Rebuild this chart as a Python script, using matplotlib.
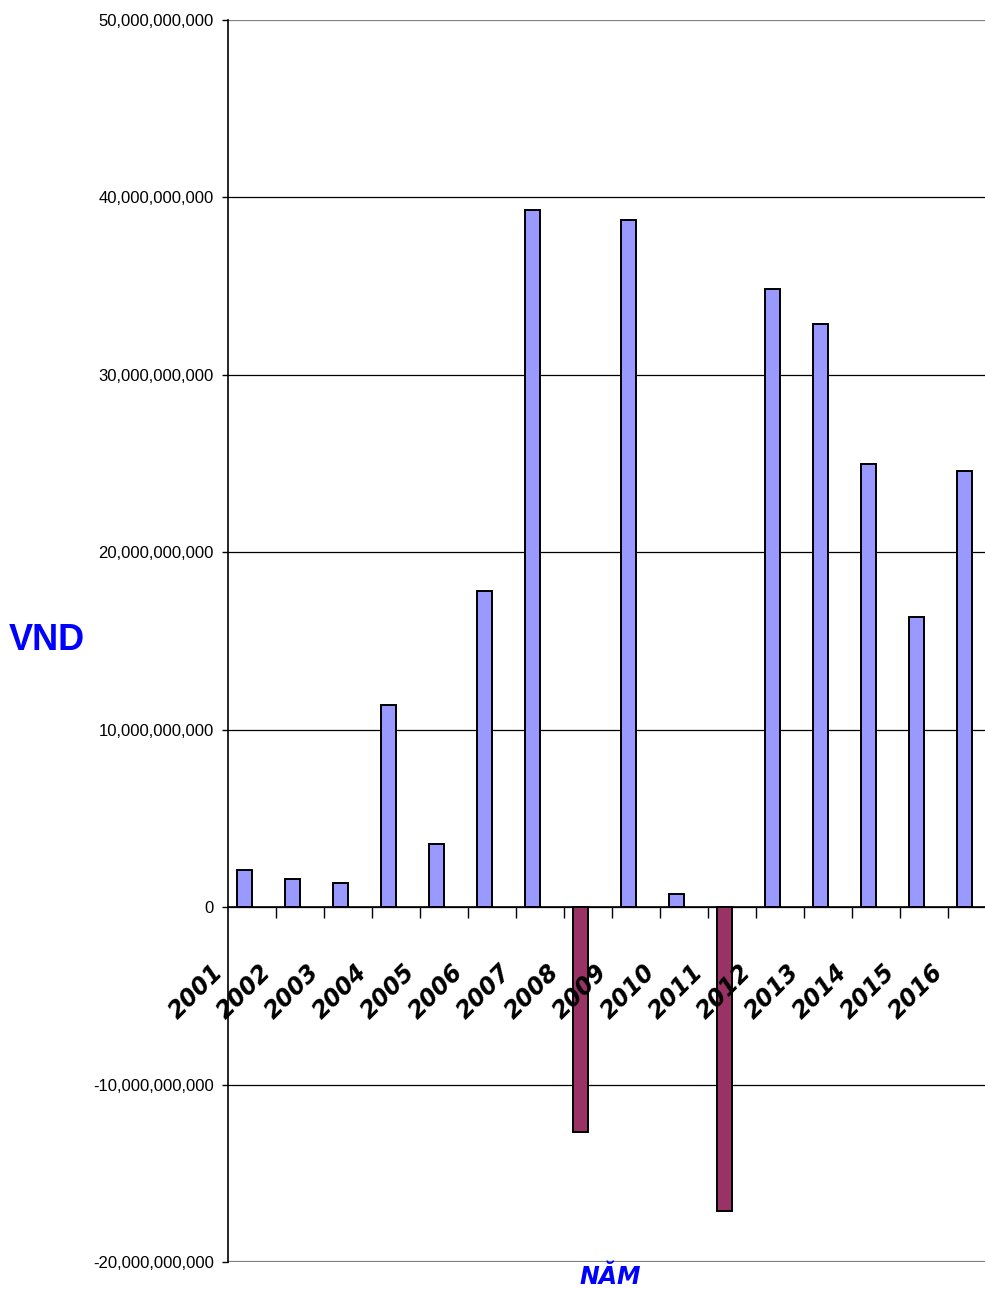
import matplotlib
matplotlib.use("Agg")
import matplotlib.pyplot as plt
from matplotlib.ticker import FuncFormatter

years = ["2001", "2002", "2003", "2004", "2005", "2006", "2007", "2008",
         "2009", "2010", "2011", "2012", "2013", "2014", "2015", "2016"]
values = [2.12e9, 1.58e9, 1.34e9, 11.42e9, 3.55e9, 17.83e9, 39.28e9, -12.66e9,
          38.72e9, 0.73e9, -17.13e9, 34.83e9, 32.88e9, 24.95e9, 16.36e9, 24.57e9]
yticks = [-20e9, -10e9, 0, 10e9, 20e9, 30e9, 40e9, 50e9]

POS_COLOR = "#9999FF"
NEG_COLOR = "#993366"

W, H = 985, 1289
fig = plt.figure(figsize=(W / 100, H / 100), dpi=100)
ax = fig.add_axes([227.7 / W, 27 / H, 768 / W, 1242 / H])

n = len(years)
xs = [i + 0.35 for i in range(n)]
colors = [POS_COLOR if v >= 0 else NEG_COLOR for v in values]
ax.bar(xs, values, width=0.3, color=colors, edgecolor="black", linewidth=1.4, zorder=3)

ax.set_xlim(0, n)
ax.set_ylim(-20e9, 50e9)
ax.set_yticks(yticks)
ax.yaxis.set_major_formatter(FuncFormatter(lambda v, p: f"{int(round(v)):,}"))
ax.tick_params(axis="y", direction="out", length=4, width=1, pad=6,
               labelsize=12)
for lab in ax.get_yticklabels():
    lab.set_family("Liberation Sans")

# gridlines
for yv in yticks:
    if yv in (-20e9, 50e9):
        ax.axhline(yv, color="#808080", linewidth=1.6, zorder=1)
    else:
        ax.axhline(yv, color="black", linewidth=0.9, zorder=1)

for s in ("top", "right"):
    ax.spines[s].set_visible(False)
ax.spines["left"].set_linewidth(1.2)
ax.spines["bottom"].set_position(("data", 0))
ax.spines["bottom"].set_linewidth(1.2)
ax.spines["bottom"].set_zorder(4)
ax.set_xticks(range(1, n + 1))
ax.tick_params(axis="x", direction="out", length=8, width=1, labelbottom=False)

# category labels
for i, yr in enumerate(years):
    ax.text(i, -2.95e9, yr, rotation=45, ha="right", va="top",
            fontsize=17, fontweight="bold", style="italic",
            family="DejaVu Sans", color="black")

fig.text(47 / W, 1 - 640 / H, "VND", ha="center", va="center", color="#0000FF",
         fontsize=26, fontweight="bold", family="Liberation Sans")
fig.text(610 / W, 1 - 1277 / H, "NĂM", ha="center", va="center", color="#0000FF",
         fontsize=17, fontweight="bold", style="italic", family="DejaVu Sans")

fig.savefig("out.png", dpi=100)
